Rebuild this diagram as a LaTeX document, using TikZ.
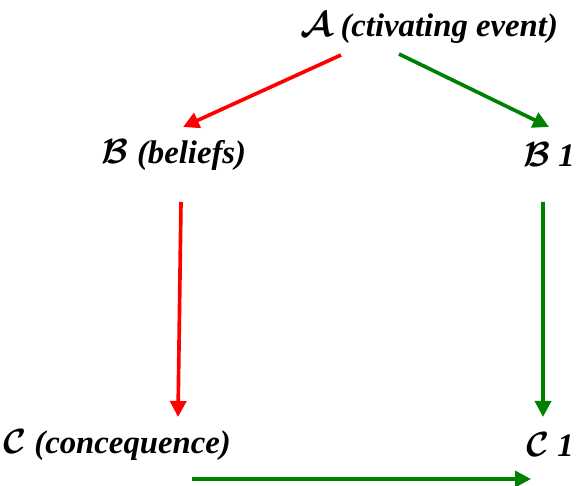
\documentclass[tikz,border=0pt]{standalone}
\usepackage{amsmath}
\usepackage{fontspec}
\usepackage{xcolor}
\usepackage{tikz}
\usetikzlibrary{arrows.meta,positioning,calc}

\newfontfamily\termfont{Liberation Serif}
\definecolor{linkred}{RGB}{255,0,0}
\definecolor{linkgreen}{RGB}{0,128,0}

\begin{document}
\begin{tikzpicture}[
  term/.style={inner sep=0pt, font=\fontsize{23.3}{27}\selectfont\termfont\bfseries\itshape\boldmath},
  redlink/.style={-{Triangle[length=4mm, width=4mm]}, line width=2.6pt, draw=linkred, fill=linkred},
  greenlink/.style={-{Triangle[length=4mm, width=4mm]}, line width=2.6pt, draw=linkgreen, fill=linkgreen},
]
  \useasboundingbox (0,0) rectangle (14.4,12.15);

  \node[term] (a)  at (10.725,11.45) {$\mathcal{A}$ (ctivating event)};
  \node[term] (b)  at (4.35,8.275)   {$\mathcal{B}$ (beliefs)};
  \node[term] (b1) at (13.725,8.275) {$\mathcal{B}$ 1};
  \node[term] (c)  at (2.925,1.025)  {$\mathcal{C}$ (concequence)};
  \node[term] (c1) at (13.75,1.025)  {$\mathcal{C}$ 1};

  \draw[redlink]   ($(a)+(-2.2,-0.675)$) -- ($(b)+(0.225,0.7)$);
  \draw[greenlink] ($(a)+(-0.75,-0.65)$) -- ($(b1)+(0,0.7)$);
  \draw[redlink]   ($(b)+(0.175,-1.175)$) -- ($(c)+(1.525,0.7)$);
  \draw[greenlink] ($(b1)+(-0.15,-1.175)$) -- ($(c1)+(-0.175,0.7)$);
  \draw[greenlink] ($(c)+(1.875,-0.85)$) -- ($(c1)+(-0.475,-0.85)$);
\end{tikzpicture}
\end{document}
